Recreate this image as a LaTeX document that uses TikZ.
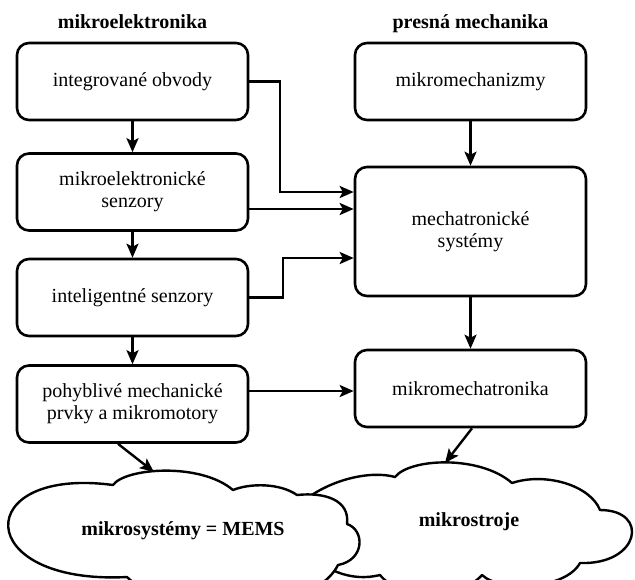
\documentclass[tikz,border=0pt]{standalone}
\usepackage{fontspec}
\setmainfont{Liberation Serif}
\usetikzlibrary{arrows.meta}

\begin{document}
\begin{tikzpicture}[x=0.5pt,y=-0.5pt]
  \tikzset{rect/.style={draw,line width=1.3pt,rectangle,rounded corners=6pt,minimum width=115.5pt,minimum height=38.5pt,align=center,font=\fontsize{10}{11}\selectfont}}
  \tikzset{arrow/.style={draw,line width=1.2pt,-{Stealth[length=7pt,width=6pt,inset=1.5pt]}}}
  \tikzset{puff/.style={draw,line width=1.2pt,fill=white,line join=round}}
  \tikzset{puffl/.style={font=\bfseries\fontsize{10}{11}\selectfont}}

  \useasboundingbox (0,0) rectangle (635,579);
  \clip (0,0) rectangle (635,579);

  \node[anchor=base,font=\bfseries] (titlel) at (132.5,28) {mikroelektronika};
  \node[anchor=base,font=\bfseries] (titler) at (470.5,28) {presná mechanika};

  \node[rect] (integ) at (132.5,81.5) {integrované obvody};
  \node[rect] (mesenz) at (132.5,192) {mikroelektronické\\senzory};
  \node[rect] (intsenz) at (132.5,297.5) {inteligentné senzory};
  \node[rect] (pohyb) at (132.5,404) {pohyblivé mechanické\\prvky a mikromotory};

  \node[rect] (mmech) at (470.5,81.5) {mikromechanizmy};
  \node[rect,minimum height=64.5pt] (mechsys) at (470.5,231.5) {mechatronické\\systémy};
  \node[rect] (mmechatr) at (470.5,388.5) {mikromechatronika};

  % clouds
  \draw[puff] (305,500) .. controls (330,480) and (370,470) .. (395,477)
    .. controls (410,458) and (480,455) .. (512,483)
    .. controls (545,472) and (590,485) .. (600,510)
    .. controls (650,510) and (640,565) .. (580,563)
    .. controls (565,590) and (500,592) .. (482,575)
    .. controls (460,600) and (400,600) .. (380,575)
    .. controls (320,590) and (270,520) .. cycle;
  \draw[puff] (113,485) .. controls (125,468) and (200,462) .. (233,490)
    .. controls (250,483) and (280,483) .. (297,495)
    .. controls (325,492) and (350,500) .. (347,524)
    .. controls (365,530) and (365,560) .. (338,565)
    .. controls (320,600) and (260,605) .. (240,592)
    .. controls (210,605) and (150,600) .. (127,577)
    .. controls (-29,585) and (-29,466) .. cycle;

  \node[puffl] (mems) at (183,531) {mikrosystémy = MEMS};
  \node[puffl] (mstroje) at (469,522) {mikrostroje};

  \coordinate (memstop) at (154,472);
  \coordinate (strojetop) at (445,463);

  \draw[arrow] (integ) -- (mesenz);
  \draw[arrow] (mesenz) -- (intsenz);
  \draw[arrow] (intsenz) -- (pohyb);
  \draw[arrow] (mmech) -- (mechsys);
  \draw[arrow] (mechsys) -- (mmechatr);

  \draw[arrow] (integ.east) -- (280,81.5) -- (280,192) -- (mechsys.west |- 0,192);
  \draw[arrow] (mesenz.east |- 0,209) -- (mechsys.west |- 0,209);
  \draw[arrow] (intsenz.east) -- (283,297.5) -- (283,258) -- (mechsys.west |- 0,258);
  \draw[arrow] (pohyb.east |- 0,391) -- (mmechatr.west |- 0,391);

  \draw[arrow] (pohyb.south -| 118,0) -- (memstop);
  \draw[arrow] (mmechatr.south -| 472,0) -- (strojetop);

\end{tikzpicture}
\end{document}
